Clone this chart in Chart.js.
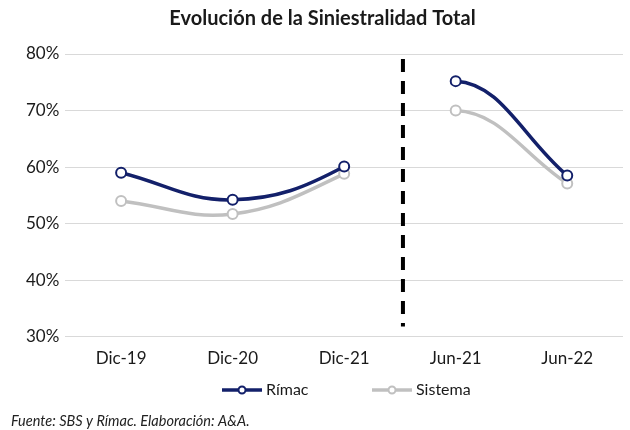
<!DOCTYPE html>
<html>
<head>
<meta charset="utf-8">
<script src="https://cdn.jsdelivr.net/npm/chart.js@4.4.1/dist/chart.umd.min.js"></script>
<style>
    html, body { margin: 0; padding: 0; background: #fff; }
    #wrap { width: 630px; height: 430px; }
</style>
</head>
<body>
<div id="wrap"><canvas id="chart" width="630" height="430"></canvas></div>
<script>
// ===== DATA =====
const categories = ['Dic-19', 'Dic-20', 'Dic-21', 'Jun-21', 'Jun-22'];
const rimacValues = [59.0, 54.2, 60.1, 75.2, 58.5];
const sistemaValues = [54.0, 51.7, 58.8, 70.0, 57.1];
const yTicks = [30, 40, 50, 60, 70, 80];
const breakAfterIndex = 2; // dashed separator between Dic-21 and Jun-21

const RIMAC_COLOR = '#13206a';
const SISTEMA_COLOR = '#c0c0c0';
const TEXT_COLOR = '#1a1a1a';

// Legend marker: short line with hollow circle
function drawLegendIcon(g, x, y, color) {
    g.strokeStyle = color;
    g.lineWidth = 3.5;
    g.beginPath();
    g.moveTo(x, y);
    g.lineTo(x + 40, y);
    g.stroke();
    g.fillStyle = '#fff';
    g.lineWidth = 2;
    g.beginPath();
    g.arc(x + 20, y, 3.5, 0, Math.PI * 2);
    g.fill();
    g.stroke();
}

// Hide the segment that crosses the separator
const hideBreak = (ctx) => ctx.p0DataIndex === breakAfterIndex ? 'rgba(0,0,0,0)' : undefined;

// Dashed vertical separator, legend and footer note
const extrasPlugin = {
    id: 'extras',
    afterDatasetsDraw(chart) {
        const { ctx, chartArea, scales } = chart;
        const x = (scales.x.getPixelForValue(breakAfterIndex) + scales.x.getPixelForValue(breakAfterIndex + 1)) / 2 + 3;
        ctx.save();
        ctx.strokeStyle = '#000';
        ctx.lineWidth = 4;
        ctx.setLineDash([13, 9]);
        ctx.beginPath();
        ctx.moveTo(x, chartArea.top + 5);
        ctx.lineTo(x, chartArea.bottom - 10);
        ctx.stroke();
        ctx.restore();
    },
    afterDraw(chart) {
        const ctx = chart.ctx;
        ctx.save();
        // legend
        ctx.font = '16px Lato';
        ctx.textBaseline = 'middle';
        let lx = 222;
        chart.data.datasets.forEach((ds) => {
            drawLegendIcon(ctx, lx, 390, ds.borderColor);
            ctx.fillStyle = TEXT_COLOR;
            ctx.fillText(ds.label, lx + 44, 390);
            lx += 150;
        });
        // footer
        ctx.fillStyle = '#222';
        ctx.font = 'italic 14.5px Lato';
        ctx.fillText('Fuente: SBS y Rímac. Elaboración: A&A.', 11, 421);
        ctx.restore();
    }
};

const ctx = document.getElementById('chart');
new Chart(ctx, {
    type: 'line',
    data: {
        labels: categories,
        datasets: [{
            label: 'Rímac',
            data: rimacValues,
            borderColor: RIMAC_COLOR,
            backgroundColor: '#fff',
            borderWidth: 3.5,
            pointRadius: 5,
            pointBorderWidth: 2,
            pointBackgroundColor: '#fff',
            pointBorderColor: RIMAC_COLOR,
            tension: 0.4,
            segment: { borderColor: hideBreak },
            order: 1
        }, {
            label: 'Sistema',
            data: sistemaValues,
            borderColor: SISTEMA_COLOR,
            backgroundColor: '#fff',
            borderWidth: 3.5,
            pointRadius: 5,
            pointBorderWidth: 2,
            pointBackgroundColor: '#fff',
            pointBorderColor: SISTEMA_COLOR,
            tension: 0.4,
            segment: { borderColor: hideBreak },
            order: 2
        }]
    },
    options: {
        responsive: false,
        animation: false,
        layout: { padding: { left: 20, right: 5, top: 0, bottom: 57 } },
        plugins: {
            title: {
                display: true,
                text: 'Evolución de la Siniestralidad Total',
                color: TEXT_COLOR,
                font: { family: 'Lato', size: 20, weight: 'bold' },
                padding: { top: 7, bottom: 23 }
            },
            legend: { display: false },
            tooltip: { enabled: false }
        },
        scales: {
            x: {
                offset: true,
                grid: { display: false },
                border: { display: false },
                ticks: {
                    color: TEXT_COLOR,
                    font: { family: 'Lato', size: 17 },
                    padding: 4
                }
            },
            y: {
                min: yTicks[0],
                max: yTicks[yTicks.length - 1],
                afterBuildTicks(axis) {
                    axis.ticks = yTicks.map(v => ({ value: v }));
                },
                grid: { color: '#d9d9d9', lineWidth: 1, drawTicks: false },
                border: { display: false },
                ticks: {
                    color: TEXT_COLOR,
                    font: { family: 'Lato', size: 17 },
                    padding: 6,
                    callback: (v) => v + '%'
                }
            }
        }
    },
    plugins: [extrasPlugin]
});
</script>
</body>
</html>
